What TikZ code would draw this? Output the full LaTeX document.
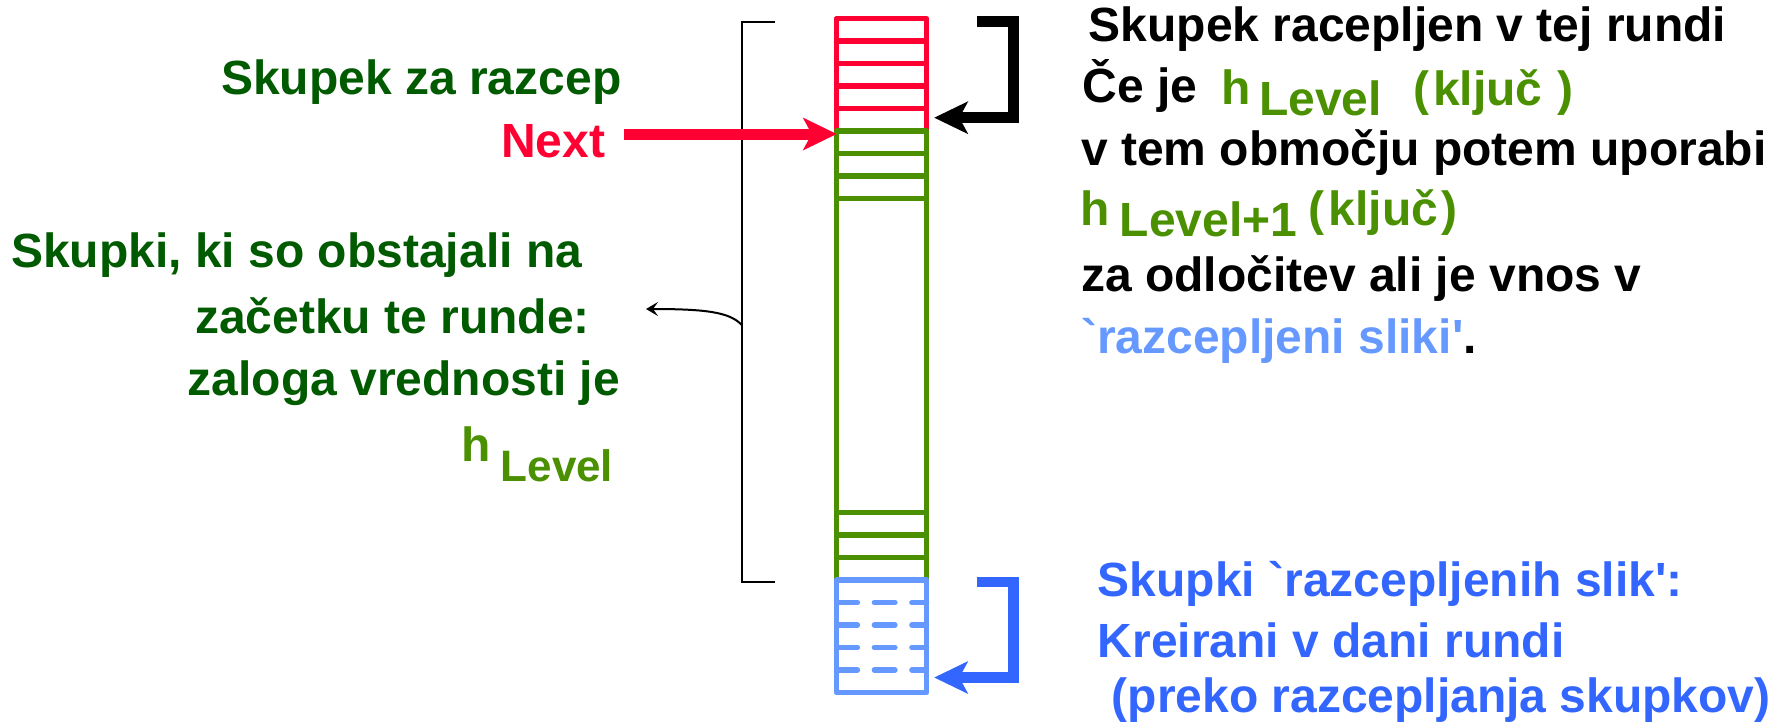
\documentclass[tikz,border=0pt]{standalone}
\usepackage{fontspec}
\setmainfont{Liberation Sans}[Ligatures=TeXOff]
\usetikzlibrary{arrows.meta}

\definecolor{leafgreen}{HTML}{4A9000}
\definecolor{darkleaf}{HTML}{005A00}
\definecolor{hotred}{HTML}{FF0033}
\definecolor{paleblue}{HTML}{6699FF}
\definecolor{deepblue}{HTML}{3366FF}

\begin{document}
\begin{tikzpicture}[x=1pt,y=-1pt,
  lbl/.style={anchor=base west,inner sep=0pt,font=\fontsize{48}{56}\selectfont\bfseries},
  smalllbl/.style={lbl,font=\fontsize{44}{50}\selectfont\bfseries},
  frame/.style={line width=5.5pt,line join=round},
  cellrule/.style={line width=5.5pt},
  newrule/.style={line width=5.5pt,line cap=round,dash pattern=on 20.5pt off 17pt},
  bigtip/.style={-{Stealth[length=34pt,width=33pt,inset=9pt,line width=0pt]}},
  bracket/.style={line width=11pt,line join=miter,bigtip},
]
\useasboundingbox (0,0) rectangle (1787,724);

% ---- the column of buckets ----
\draw[frame,hotred] (836.5,18.5) rectangle (926.5,131);
\foreach \y in {41,63.5,86,108.5}
  \draw[cellrule,hotred] (836.5,\y) -- (926.5,\y);
\draw[frame,leafgreen] (836.5,131) rectangle (926.5,580);
\foreach \y in {153.5,176,198.5,512.5,535,557.5}
  \draw[cellrule,leafgreen] (836.5,\y) -- (926.5,\y);
\draw[frame,paleblue] (836.5,580) rectangle (926.5,692.5);
\foreach \y in {602.5,625,647.5,670}
  \draw[newrule,paleblue] (836.9,\y) -- (926.5,\y);

% ---- anchor points for the connectors ----
\coordinate (nextstart) at (624,134);
\coordinate (nextslot)  at (836.7,134);
\coordinate (splittop)  at (976.7,21.5);
\coordinate (splitslot) at (934.3,117.7);
\coordinate (newtop)    at (976.7,582);
\coordinate (newslot)   at (934.3,677.5);
\coordinate (bracetop)  at (775,22);
\coordinate (bracebot)  at (775,582);
\coordinate (bracemid)  at (741.7,325);
\coordinate (oldtip)    at (646,309);

% thin bracket spanning the buckets that existed at the start of the round
\draw[line width=2pt] (bracetop) -- (741.7,22) -- (741.7,582) -- (bracebot);
\draw[line width=2pt,-{Stealth[length=12pt,width=14pt,inset=5pt]}]
  (bracemid) .. controls (730,312) and (705,309) .. (oldtip);

% Next pointer
\draw[hotred,line width=11pt,bigtip] (nextstart) -- (nextslot);

% bucket being split in this round
\draw[bracket] (splittop) -- (1013.7,21.5) -- (1013.7,117.7) -- (splitslot);

% buckets of split images
\draw[bracket,deepblue,line width=10.5pt] (newtop) -- (1013.7,582) -- (1013.7,677.5) -- (newslot);

% ---- left texts ----
\node[lbl,text=darkleaf] (splitlbl) at (221,94.3) {Skupek za razcep};
\node[lbl,text=hotred] (nextlbl) at (501,157.3) {Next};
\node[lbl,text=darkleaf] (old1) at (11,267) {Skupki, ki so obstajali na};
\node[lbl,text=darkleaf] (old2) at (195,333) {začetku te runde:};
\node[lbl,text=darkleaf] (old3) at (187.5,395) {zaloga vrednosti je};
\node[lbl,text=leafgreen] (oldh) at (461.5,461) {h};
\node[smalllbl,text=leafgreen] (oldlevel) at (500.5,481.7) {Level};

% ---- right texts ----
\node[lbl] (r1) at (1088.5,41) {Skupek racepljen v tej rundi};
\node[lbl] (r2a) at (1082.5,102.7) {Če je};
\node[lbl,text=leafgreen] (r2h) at (1221,104) {h};
\node[lbl,text=leafgreen] (r2lev) at (1259,115) {Level};
\node[lbl,text=leafgreen] (r2key) at (1413,105) {(\kern4pt ključ\kern2pt\ )};
\node[lbl] (r3) at (1081,165) {v tem območju potem uporabi};
\node[lbl,text=leafgreen] (r4h) at (1080,225) {h};
\node[lbl,text=leafgreen] (r4lev) at (1119.5,236.7) {Level+1};
\node[lbl,text=leafgreen] (r4key) at (1308.5,225) {(\kern4pt ključ\kern3pt)};
\node[lbl] (r5) at (1081,291) {za odločitev ali je vnos v};
\node[lbl] (r6) at (1081,353) {\textcolor{paleblue}{`razcepljeni sliki'}.};

% ---- texts for the new buckets ----
\node[lbl,text=deepblue] (b1) at (1097.5,596) {Skupki `razcepljenih slik':};
\node[lbl,text=deepblue] (b2) at (1097.5,657) {Kreirani v dani rundi};
\node[lbl,text=deepblue] (b3) at (1111.5,712) {(preko razcepljanja skupkov)};
\end{tikzpicture}
\end{document}
